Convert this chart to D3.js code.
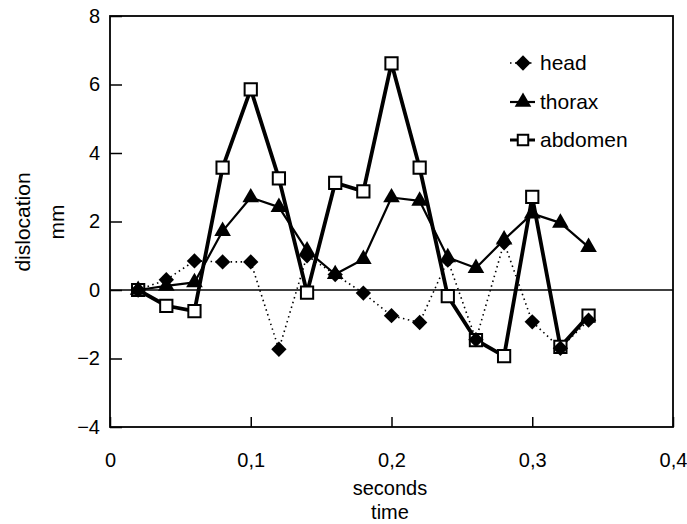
<!DOCTYPE html>
<html><head><meta charset="utf-8">
<script src="https://cdn.jsdelivr.net/npm/d3@7"></script>
<style>
body{margin:0;background:#fff;}
text{font-family:"Liberation Sans",Arial,sans-serif;fill:#000;}
</style></head>
<body><svg id="c" width="687" height="524"></svg>
<script>
const times = [0.02,0.04,0.06,0.08,0.10,0.12,0.14,0.16,0.18,0.20,0.22,0.24,0.26,0.28,0.30,0.32,0.34];
const head    = [0,0.3,0.85,0.82,0.82,-1.73,1.0,0.45,-0.09,-0.75,-0.95,0.87,-1.45,1.38,-0.93,-1.7,-0.88];
const thorax  = [0,0.12,0.22,1.72,2.7,2.42,1.15,0.46,0.9,2.7,2.6,0.95,0.64,1.47,2.23,1.96,1.25];
const abdomen = [0,-0.46,-0.62,3.57,5.86,3.26,-0.08,3.13,2.88,6.62,3.57,-0.18,-1.46,-1.93,2.72,-1.66,-0.75];
const xTicks = [0,0.1,0.2,0.3,0.4];
const xTickLabels = ["0","0,1","0,2","0,3","0,4"];
const yTicks = [-4,-2,0,2,4,6,8];
const seriesNames = ["head","thorax","abdomen"];

const svg = d3.select("#c");
const L=110, T=16, R=673, B=427;
const x = d3.scaleLinear().domain([0,0.4]).range([L,R]);
const y = d3.scaleLinear().domain([-4,8]).range([B,T]);

const xa = svg.append("g").attr("transform",`translate(0,${B})`)
  .call(d3.axisBottom(x).tickValues(xTicks).tickSize(-10).tickPadding(26)
    .tickFormat((d,i)=>xTickLabels[i]));
const ya = svg.append("g").attr("transform",`translate(${L},0)`)
  .call(d3.axisLeft(y).tickValues(yTicks).tickSize(-12).tickPadding(24).tickFormat(d3.format("d")));
[xa,ya].forEach(g=>{
  g.select(".domain").remove();
  g.selectAll(".tick line").attr("stroke","#000").attr("stroke-width",1.5);
  g.selectAll("text").style("font-size","20px").style("font-family","'Liberation Sans',Arial,sans-serif");
});
ya.selectAll("text").attr("x",-10);
xa.selectAll("text").attr("dy","0.71em").attr("y",26);

svg.append("rect").attr("x",L).attr("y",T).attr("width",R-L).attr("height",B-T)
  .attr("fill","none").attr("stroke","#000").attr("stroke-width",1.8);

svg.append("line").attr("x1",L).attr("x2",R).attr("y1",y(0)).attr("y2",y(0))
  .attr("stroke","#000").attr("stroke-width",1.5);

svg.append("text").attr("x",390).attr("y",495).attr("text-anchor","middle").style("font-size","20px").text("seconds");
svg.append("text").attr("x",390).attr("y",519).attr("text-anchor","middle").style("font-size","20px").text("time");
svg.append("text").attr("transform","translate(30,222) rotate(-90)").attr("text-anchor","middle").style("font-size","21px").text("dislocation");
svg.append("text").attr("transform","translate(64,222) rotate(-90)").attr("text-anchor","middle").style("font-size","21px").text("mm");

const line = d3.line().x((d,i)=>x(times[i])).y(d=>y(d));
const styles = {
  head:{data:head, w:1.6, dash:"1.5,3.5", sym:d3.symbolDiamond2, size:150, fill:"#000", sw:0},
  thorax:{data:thorax, w:2.2, dash:null, sym:d3.symbolTriangle, size:120, fill:"#000", sw:0},
  abdomen:{data:abdomen, w:3.8, dash:null, sym:d3.symbolSquare, size:150, fill:"#fff", sw:2}
};
const order = ["abdomen","thorax","head"];
order.forEach(n=>{
  const s=styles[n];
  svg.append("path").datum(s.data).attr("d",line).attr("fill","none")
    .attr("stroke","#000").attr("stroke-width",s.w).attr("stroke-dasharray",s.dash)
    .attr("stroke-linejoin","round");
});
order.forEach(n=>{
  const s=styles[n];
  svg.append("g").selectAll("path").data(s.data).join("path")
    .attr("transform",(d,i)=>`translate(${x(times[i])},${y(d)})`)
    .attr("d",d3.symbol().type(s.sym).size(s.size))
    .attr("fill",s.fill).attr("stroke","#000").attr("stroke-width",s.sw);
});

const lg = svg.append("g");
const legY = [63,102,140];
seriesNames.forEach((n,i)=>{
  const s=styles[n];
  lg.append("line").attr("x1",510).attr("x2",535).attr("y1",legY[i]).attr("y2",legY[i])
    .attr("stroke","#000").attr("stroke-width",n==="head"?1.6:(n==="thorax"?2.2:3)).attr("stroke-dasharray",s.dash);
  lg.append("path").attr("transform",`translate(523,${legY[i]})`)
    .attr("d",d3.symbol().type(s.sym).size(n==="abdomen"?110:s.size))
    .attr("fill",s.fill).attr("stroke","#000").attr("stroke-width",s.sw);
  lg.append("text").attr("x",540).attr("y",legY[i]).attr("dy","0.35em").style("font-size","21px").text(n);
});
</script></body></html>
